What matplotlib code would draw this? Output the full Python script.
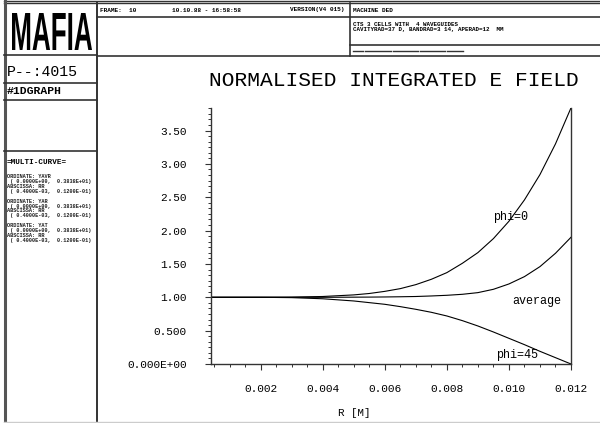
import matplotlib
matplotlib.use("Agg")
import matplotlib.pyplot as plt
from matplotlib.lines import Line2D
from matplotlib.ticker import FixedLocator, FixedFormatter, MultipleLocator
from matplotlib.textpath import TextPath
from matplotlib.patches import PathPatch
from matplotlib.font_manager import FontProperties
from matplotlib.transforms import Affine2D

W, H = 600, 423
MONO = "Liberation Mono"

# curve data
r = [0.0004, 0.001, 0.002, 0.003, 0.004, 0.005, 0.0055, 0.006, 0.0065, 0.007,
     0.0075, 0.008, 0.0085, 0.009, 0.0095, 0.010, 0.0105, 0.011, 0.0115, 0.012]
phi0 = [1.000, 1.000, 1.000, 1.003, 1.012, 1.036, 1.057, 1.089, 1.13, 1.19,
        1.27, 1.37, 1.51, 1.67, 1.88, 2.14, 2.46, 2.84, 3.30, 3.84]
average = [1.000, 1.000, 1.000, 1.000, 1.000, 1.002, 1.003, 1.005, 1.008, 1.012,
           1.02, 1.03, 1.045, 1.07, 1.12, 1.20, 1.31, 1.46, 1.66, 1.90]
phi45 = [1.000, 1.000, 1.000, 0.995, 0.978, 0.945, 0.92, 0.895, 0.86, 0.82,
         0.775, 0.72, 0.65, 0.57, 0.48, 0.385, 0.29, 0.19, 0.095, 0.00]

xticks = [0.002, 0.004, 0.006, 0.008, 0.010, 0.012]
xticklabels = ["0.002", "0.004", "0.006", "0.008", "0.010", "0.012"]
yticks = [0.0, 0.5, 1.0, 1.5, 2.0, 2.5, 3.0, 3.5]
yticklabels = ["0.000E+00", "0.500", "1.00", "1.50", "2.00", "2.50", "3.00", "3.50"]

side_lines = [
    "ORDINATE: YAVR", " ( 0.0000E+00,  0.3838E+01)", "ABSCISSA: RR", " ( 0.4000E-03,  0.1200E-01)",
    "ORDINATE: YAR", " ( 0.0000E+00,  0.3838E+01)", "ABSCISSA: RR", " ( 0.4000E-03,  0.1200E-01)",
    "ORDINATE: YAT", " ( 0.0000E+00,  0.3838E+01)", "ABSCISSA: RR", " ( 0.4000E-03,  0.1200E-01)",
]

fig = plt.figure(figsize=(W / 100, H / 100), dpi=100)


def fx(x):
    return x / W


def fy(y):
    return 1 - y / H


def hline(y, x0, x1, lw=1.2, color="#333333"):
    fig.add_artist(Line2D([fx(x0), fx(x1)], [fy(y), fy(y)], lw=lw, color=color,
                          transform=fig.transFigure))


def vline(x, y0, y1, lw=1.2, color="#333333"):
    fig.add_artist(Line2D([fx(x), fx(x)], [fy(y0), fy(y1)], lw=lw, color=color,
                          transform=fig.transFigure))


def txt(x, y, s, size, ha="left", weight="normal", family=MONO, color="black"):
    fig.text(fx(x), fy(y), s, fontsize=size, ha=ha, va="center",
             family=family, weight=weight, color=color)


# frame
hline(1.2, 4, 600, lw=1.0)
hline(3.2, 4, 600, lw=1.0)
vline(4.5, 1, 421, lw=2.2, color="#555555")
vline(97, 3, 421, lw=1.4)
hline(421.5, 4, 600, lw=1.0, color="#cccccc")
hline(17, 97, 600)
vline(350, 3, 56)
hline(45, 350, 600)
hline(56, 97, 600)
for a, b in [(353, 363), (365, 391), (393, 418), (420, 445), (447, 463)]:
    hline(51, a, b, lw=1.0)
hline(55, 4, 97)
hline(83, 4, 97)
hline(100, 4, 97)
hline(151, 4, 97)

# MAFIA logo, condensed
tp = TextPath((0, 0), "MAFIA", size=1, prop=FontProperties(family="Liberation Sans", weight="bold"))
bb = tp.get_extents()
tr = (Affine2D().translate(-bb.x0, -bb.y0)
      .scale(80 / bb.width, 37 / bb.height)
      .translate(12, H - 50)
      .scale(1 / W, 1 / H)) + fig.transFigure
fig.add_artist(PathPatch(tp, transform=tr, facecolor="black", edgecolor="none"))

txt(7, 72, "P--:4015", 10.7)
txt(7, 91, "#1DGRAPH", 8.2, weight="bold")
txt(7, 163, "=MULTI-CURVE=", 5.5, weight="bold")
ys = [176, 181, 186, 191, 201, 206, 211, 216, 225, 230, 235, 240]
for y, s in zip(ys, side_lines):
    txt(7, y, s, 3.8, weight="bold", color="#222222")

# header
txt(100, 10, "FRAME:  10", 4.4, weight="bold")
txt(172, 10, "10.10.88 - 16:58:58", 4.4, weight="bold")
txt(290, 10, "VERSION(V4 015)", 4.4, weight="bold")
txt(353, 10, "MACHINE DED", 4.4, weight="bold")
txt(353, 24, "CTS 3 CELLS WITH  4 WAVEGUIDES", 4.2, weight="bold")
txt(353, 29.5, "CAVITYRAD=37 D, BANDRAD=3 14, APERAD=12  MM", 4.2, weight="bold")

# title and axis label
txt(394, 80, "NORMALISED INTEGRATED E FIELD", 15.3, ha="center")
txt(354, 413, "R [M]", 7.8, ha="center")

# plot
ax = fig.add_axes([fx(211), fy(364), (571 - 211) / W, (364 - 108) / H])
ax.plot(r, phi0, color="black", lw=0.8)
ax.plot(r, average, color="black", lw=0.8)
ax.plot(r, phi45, color="black", lw=0.8)
ax.set_xlim(0.0004, 0.012)
ax.set_ylim(0, 3.838)
ax.spines["top"].set_visible(False)
for s in ["left", "right", "bottom"]:
    ax.spines[s].set_color("#333333")
    ax.spines[s].set_linewidth(1.0)
ax.xaxis.set_major_locator(FixedLocator(xticks))
ax.xaxis.set_major_formatter(FixedFormatter(xticklabels))
ax.xaxis.set_minor_locator(MultipleLocator(0.0005))
ax.yaxis.set_major_locator(FixedLocator(yticks))
ax.yaxis.set_major_formatter(FixedFormatter(yticklabels))
ax.yaxis.set_minor_locator(MultipleLocator(0.5 / 6))
ax.tick_params(which="major", direction="out", length=4.3, width=0.8, color="#333333")
ax.tick_params(which="minor", direction="out", length=2.2, width=0.7, color="#333333")
ax.tick_params(axis="y", which="major", pad=13, labelsize=8)
ax.tick_params(axis="x", which="major", pad=10, labelsize=8)
for lab in ax.get_xticklabels() + ax.get_yticklabels():
    lab.set_family(MONO)

ax.text(0.0095, 2.20, "phi=0", fontsize=8.5, family=MONO, ha="left", va="center")
ax.text(0.0101, 0.95, "average", fontsize=8.5, family=MONO, ha="left", va="center")
ax.text(0.0096, 0.13, "phi=45", fontsize=8.5, family=MONO, ha="left", va="center")

fig.savefig("out.png", dpi=100)
